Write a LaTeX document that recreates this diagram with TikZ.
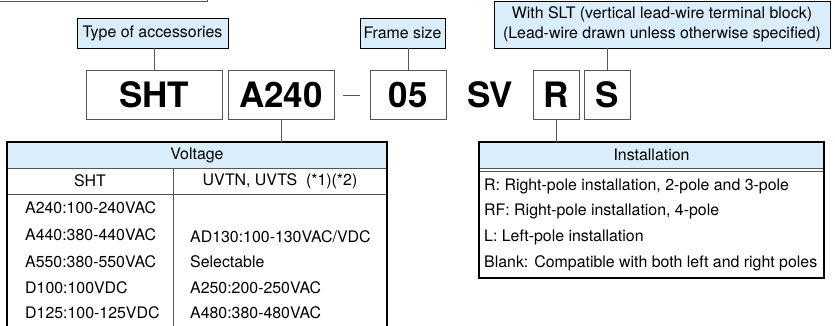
\documentclass[tikz,border=0pt]{standalone}
\usepackage{fontspec}
\setmainfont{TeX Gyre Heros}
\usetikzlibrary{positioning, calc}
\definecolor{paleblue}{RGB}{218, 237, 250}
\definecolor{linegray}{RGB}{85, 85, 85}

\begin{document}
\begin{tikzpicture}[x=1pt, y=-1pt,
  tagbox/.style={draw=black, line width=0.8pt, fill=paleblue, inner sep=0pt, font=\fontsize{15.9}{20}\selectfont},
  codebox/.style={draw=linegray, line width=0.8pt, inner sep=0pt, minimum height=49pt, font=\fontsize{35}{40}\selectfont\bfseries},
  headcell/.style={inner sep=0pt, minimum height=26pt, font=\fontsize{15.9}{18}\selectfont},
  rowtext/.style={inner sep=0pt, anchor=west, font=\fontsize{15.9}{18}\selectfont},
  wire/.style={draw=linegray, line width=0.8pt},
  tframe/.style={draw=black, line width=1.5pt}]

  \useasboundingbox (0,0) rectangle (835,325);
  \clip (0,0) rectangle (835,325);

  % box cut off at the top left
  \draw[linegray, line width=1pt] (0,1) -- (207,1) -- (207,-4);

  % labels above the code
  \node[tagbox, minimum width=151pt, minimum height=30pt] (acc) at (152.5,33) {Type of accessories};
  \node[tagbox, minimum width=85pt, minimum height=30pt] (size) at (402.5,33) {Frame size};
  \node[tagbox, minimum width=336pt, minimum height=47pt, align=center] (slt) at (662,24.5)
    {With SLT (vertical lead-wire terminal block)\\(Lead-wire drawn unless otherwise specified)};

  % model code
  \node[codebox, minimum width=136pt] (sht) at (154,94.5) {SHT};
  \node[codebox, minimum width=106pt] (a240) at (281,94.5) {A240};
  \node[codebox, minimum width=76pt] (fs) at (408,94.5) {05};
  \node[codebox, draw=none] (sv) at (490,94.5) {SV};
  \node[codebox, minimum width=46pt] (r) at (556,94.5) {R};
  \node[codebox, minimum width=46pt] (s) at (607,94.5) {S};
  \draw[wire] ($(a240.east)+(9,0.5)$) -- ($(fs.west)+(-10,0.5)$);

  % connectors
  \draw[wire] (sht.north) -- (sht.north |- acc.south);
  \draw[wire] (fs.north) -- (fs.north |- size.south);
  \draw[wire] (s.north) -- (s.north |- slt.south);

  % voltage table
  \node[headcell, fill=paleblue, minimum width=380pt] (volthead) at (197,155) {Voltage};
  \node[headcell, minimum width=166pt] (colsht) at (90,181) {SHT};
  \node[headcell, minimum width=214pt] (coluvt) at (280,181) {UVTN, UVTS\ \ (*1)(*2)};
  \draw[wire] (volthead.south west) -- (volthead.south east);
  \draw[wire] (colsht.south west) -- (coluvt.south east);
  \draw[wire] (colsht.north east) -- ($(colsht.north east)+(0,200)$);
  \draw[tframe] ($(volthead.north west)+(0,200)$) -- (volthead.north west)
    -- (volthead.north east) -- ($(volthead.north east)+(0,200)$);
  \foreach \txt/\ypos in {A240:100-240VAC/208, A440:380-440VAC/235, A550:380-550VAC/262,
      D100:100VDC/288, D125:100-125VDC/313}
    \node[rowtext] at (25,\ypos) {\txt};
  \foreach \txt/\ypos in {{AD130:100-130VAC/VDC}/237, Selectable/262, A250:200-250VAC/288,
      A480:380-480VAC/313}
    \node[rowtext] at (190,\ypos) {\txt};
  \draw[wire] (a240.south) -- (a240.south |- volthead.north);

  % installation table
  \node[headcell, fill=paleblue, minimum width=345pt] (insthead) at (651.5,155) {Installation};
  \draw[wire] (insthead.south west) -- (insthead.south east);
  \draw[wire] ($(insthead.south west)+(0,3)$) -- ($(insthead.south east)+(0,3)$);
  \draw[tframe] (insthead.north west) rectangle ($(insthead.south east)+(0,110)$);
  \foreach \txt [count=\i from 0] in {{R: Right-pole installation, 2-pole and 3-pole},
      {RF: Right-pole installation, 4-pole}, {L: Left-pole installation},
      {Blank: Compatible with both left and right poles}}
    \node[rowtext] at (484,186+25.8*\i) {\txt};
  \draw[wire] (r.south) -- (r.south |- insthead.north);
\end{tikzpicture}
\end{document}
